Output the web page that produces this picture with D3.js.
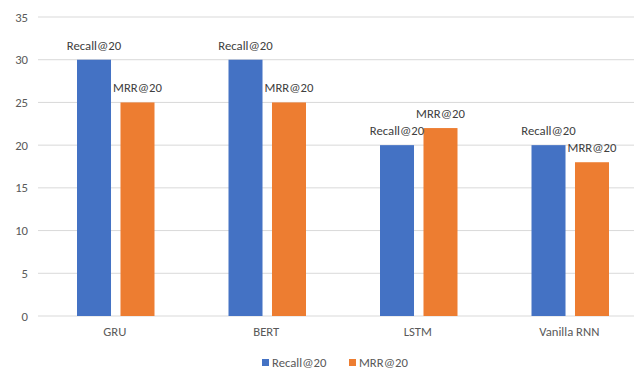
<!DOCTYPE html>
<html>
<head>
<meta charset="utf-8">
<script src="https://cdn.jsdelivr.net/npm/d3@7/dist/d3.min.js"></script>
<style>
  html, body { margin: 0; padding: 0; background: #fff; }
  svg { display: block; font-family: Calibri, Lato, "Open Sans", sans-serif; }
</style>
</head>
<body>
<svg id="chart" width="634" height="371"></svg>
<script>
// Model names and scores
const models = ["GRU", "BERT", "LSTM", "Vanilla RNN"];
const seriesNames = ["Recall@20", "MRR@20"];
const recall = [30, 30, 20, 20];
const mrr = [25, 25, 22, 18];
const yTicks = [0, 5, 10, 15, 20, 25, 30, 35];
const colors = ["#4472C4", "#ED7D31"];

const W = 634, H = 371;
const FS = "12.7px";
const svg = d3.select("#chart");

const x = d3.scaleBand().domain(models).range([39, 645]).paddingInner(0).paddingOuter(0);
const x1 = d3.scaleBand().domain(seriesNames).range([38, 115.5]).paddingInner(0.218).paddingOuter(0);
const y = d3.scaleLinear().domain([0, 35]).range([316, 17]);

// Gridlines
svg.append("g")
  .selectAll("line")
  .data(yTicks)
  .join("line")
  .attr("x1", 38).attr("x2", W)
  .attr("y1", d => y(d)).attr("y2", d => y(d))
  .attr("stroke", "#d9d9d9").attr("stroke-width", 1);

// Y axis labels
const yAxis = d3.axisLeft(y).tickValues(yTicks).tickSize(0).tickPadding(0);
const gy = svg.append("g").attr("transform", "translate(28,0)").call(yAxis);
gy.select(".domain").remove();
gy.selectAll("text").attr("fill", "#595959").style("font-size", FS)
  .style("font-family", "Calibri, Lato, 'Open Sans', sans-serif");

// X axis labels
const xAxis = d3.axisBottom(x).tickSize(0).tickPadding(0);
const gx = svg.append("g").attr("transform", "translate(0,327)").call(xAxis);
gx.select(".domain").remove();
gx.selectAll("text").attr("fill", "#595959").style("font-size", FS)
  .style("font-family", "Calibri, Lato, 'Open Sans', sans-serif");

const rows = models.map((m, i) => ({ model: m, values: [recall[i], mrr[i]] }));

const groups = svg.append("g").selectAll("g")
  .data(rows)
  .join("g")
  .attr("transform", d => `translate(${x(d.model)},0)`);

groups.selectAll("rect")
  .data(d => d.values.map((v, j) => ({ name: seriesNames[j], value: v, j })))
  .join("rect")
  .attr("x", d => x1(d.name))
  .attr("width", x1.bandwidth())
  .attr("y", d => y(d.value))
  .attr("height", d => y(0) - y(d.value))
  .attr("fill", d => colors[d.j]);

// Data labels show the series name above each bar
groups.selectAll("text.lbl")
  .data(d => d.values.map((v, j) => ({ name: seriesNames[j], value: v, j })))
  .join("text")
  .attr("class", "lbl")
  .attr("x", d => x1(d.name) + x1.bandwidth() / 2)
  .attr("y", d => y(d.value) - 10)
  .attr("text-anchor", "middle")
  .attr("fill", "#404040")
  .style("font-size", FS)
  .text(d => d.name);

// Legend
const legend = svg.append("g").attr("transform", "translate(262,358)");
const legendX = [0, 87];
seriesNames.forEach((name, j) => {
  const g = legend.append("g").attr("transform", `translate(${legendX[j]},0)`);
  g.append("rect").attr("width", 7).attr("height", 7).attr("y", 1).attr("fill", colors[j]);
  g.append("text").attr("x", 10).attr("y", 8.5).attr("fill", "#595959")
    .style("font-size", FS).text(name);
});
</script>
</body>
</html>
